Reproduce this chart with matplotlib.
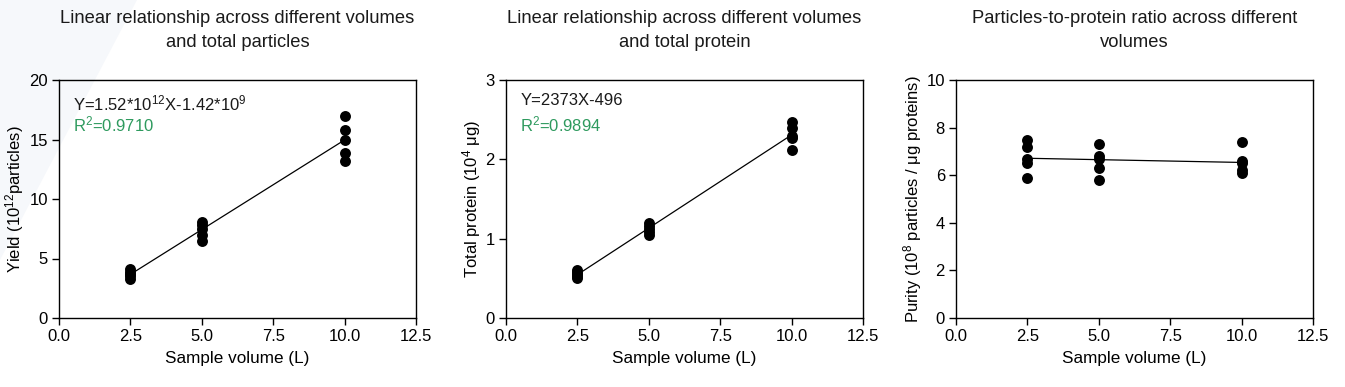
import numpy as np
import matplotlib
matplotlib.use("Agg")
import matplotlib.pyplot as plt
from matplotlib.patches import Polygon

plt.rcParams['font.family'] = ['Liberation Sans', 'DejaVu Sans']
plt.rcParams['mathtext.fontset'] = 'custom'
plt.rcParams['mathtext.rm'] = 'Liberation Sans'
plt.rcParams['mathtext.it'] = 'Liberation Sans'
plt.rcParams['mathtext.default'] = 'regular'

# ---- data ----
vol_particles = [2.5]*5 + [5.0]*5 + [10.0]*5
yield_particles = [3.3, 3.5, 3.7, 3.9, 4.1,
                   6.5, 7.0, 7.5, 7.8, 8.1,
                   13.2, 13.9, 15.0, 15.8, 17.0]

vol_protein = [2.5]*5 + [5.0]*5 + [10.0]*5
total_protein = [0.50, 0.53, 0.56, 0.58, 0.60,
                 1.05, 1.08, 1.12, 1.16, 1.20,
                 2.12, 2.27, 2.30, 2.40, 2.47]

vol_purity = [2.5]*5 + [5.0]*5 + [10.0]*5
purity = [5.9, 6.5, 6.7, 7.2, 7.5,
          5.8, 6.3, 6.7, 6.8, 7.3,
          6.1, 6.2, 6.5, 6.6, 7.4]

titles = ["Linear relationship across different volumes\nand total particles",
          "Linear relationship across different volumes\nand total protein",
          "Particles-to-protein ratio across different\nvolumes"]
ylabels = ["Yield (10$^{12}$particles)",
           "Total protein (10$^{4}$ μg)",
           "Purity (10$^{8}$ particles / μg proteins)"]
eq_texts = ["Y=1.52*10$^{12}$X-1.42*10$^{9}$", "Y=2373X-496", None]
r2_texts = ["R$^{2}$=0.9710", "R$^{2}$=0.9894", None]
ylims = [(0, 20), (0, 3), (0, 10)]
yticks = [[0, 5, 10, 15, 20], [0, 1, 2, 3], [0, 2, 4, 6, 8, 10]]
xticks = [0.0, 2.5, 5.0, 7.5, 10.0, 12.5]

datasets = [(vol_particles, yield_particles),
            (vol_protein, total_protein),
            (vol_purity, purity)]

W, H = 1345, 387
fig = plt.figure(figsize=(W/100, H/100), dpi=100)

# faint background decoration (top-left)
bg = Polygon([[0, 1], [137/W, 1], [0, 1 - 260/H]], closed=True,
             transform=fig.transFigure, facecolor='#f6f8fb', edgecolor='none', zorder=-10)
fig.patches.append(bg)

lefts = [59, 506, 956]
width_px = 357
bottom_px, top_px = 318, 80

green = '#2e9a5e'
for i, (x, y) in enumerate(datasets):
    ax = fig.add_axes([lefts[i]/W, 1 - bottom_px/H, width_px/W, (bottom_px-top_px)/H])
    ax.set_facecolor('none')
    ax.scatter(x, y, s=62, color='black', zorder=3, linewidths=0)
    xa = np.array(x); ya = np.array(y)
    k, b = np.polyfit(xa, ya, 1)
    xl = np.array([2.5, 10.0])
    ax.plot(xl, k*xl + b, color='black', lw=0.9, zorder=2)
    ax.set_xlim(0, 12.5)
    ax.set_ylim(*ylims[i])
    ax.set_xticks(xticks)
    ax.set_xticklabels([f"{t:.1f}" for t in xticks])
    ax.set_yticks(yticks[i])
    ax.tick_params(direction='out', length=5, width=1, labelsize=12, pad=3)
    for sp in ax.spines.values():
        sp.set_linewidth(1.0)
    ax.set_xlabel("Sample volume (L)", fontsize=12.3, labelpad=5)
    ax.set_ylabel(ylabels[i], fontsize=12, labelpad=2)
    ax.set_title(titles[i], fontsize=13.2, pad=24, linespacing=1.5, color='#1a1a1a')
    if eq_texts[i]:
        ax.text(0.04, 0.945, eq_texts[i], transform=ax.transAxes, fontsize=12,
                va='top', ha='left', color='#1a1a1a')
        ax.text(0.04, 0.855, r2_texts[i], transform=ax.transAxes, fontsize=12,
                va='top', ha='left', color=green)

fig.savefig("out.png", dpi=100, facecolor='white')
